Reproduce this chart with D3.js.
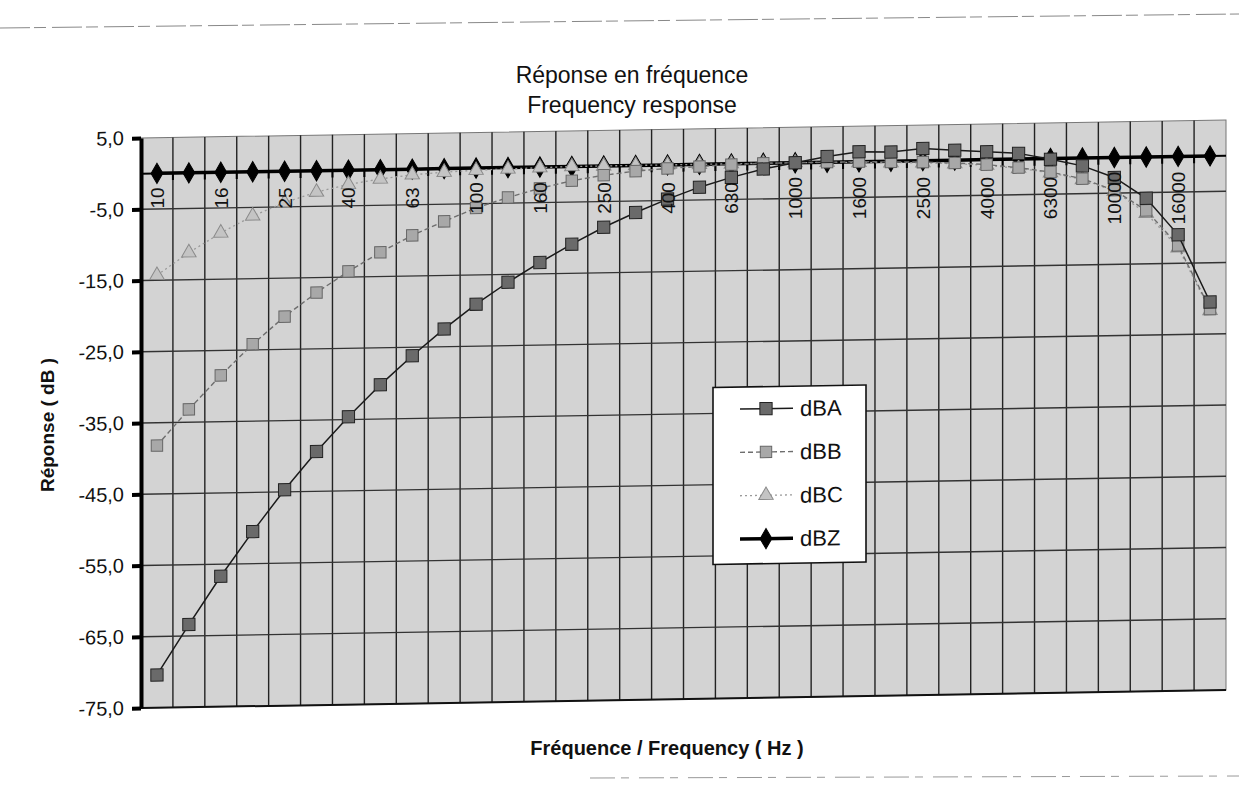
<!doctype html><html><head><meta charset="utf-8"></head><body style="margin:0;background:#fff">
<script src="https://d3js.org/d3.v7.min.js"></script>
<style>
  svg text { font-family: "Liberation Sans", Arial, sans-serif; fill: #111; }
</style>
<script>
// 1/3 octave bands (Hz)
var bands = ["10","12.5","16","20","25","31.5","40","50","63","80","100","125","160","200","250","315","400","500","630","800",
             "1000","1250","1600","2000","2500","3150","4000","5000","6300","8000","10000","12500","16000","20000"];
var xLabels = ["10","16","25","40","63","100","160","250","400","630","1000","1600","2500","4000","6300","10000","16000"];
var yTicks = [5,-5,-15,-25,-35,-45,-55,-65,-75];

var dBA = [-70.4,-63.4,-56.7,-50.5,-44.7,-39.4,-34.6,-30.2,-26.2,-22.5,-19.1,-16.1,-13.4,-10.9,-8.6,-6.6,-4.8,-3.2,-1.9,-0.8,
           0,0.8,1.4,1.3,1.7,1.4,1.1,0.8,-0.1,-1.1,-2.8,-5.8,-11.0,-20.5];
var dBB = [-38.2,-33.2,-28.5,-24.2,-20.4,-17.1,-14.2,-11.6,-9.3,-7.4,-5.6,-4.2,-3.0,-2.0,-1.3,-0.8,-0.5,-0.3,-0.1,0,
           0,0,0,-0.1,-0.2,-0.4,-0.7,-1.2,-1.9,-2.9,-4.6,-7.5,-12.5,-21.5];
var dBC = [-14.3,-11.2,-8.5,-6.2,-4.4,-3.0,-2.0,-1.3,-0.8,-0.5,-0.3,-0.2,-0.1,0,0,0,0,0,0,0,
           0,0,-0.1,-0.2,-0.3,-0.5,-0.8,-1.3,-2.0,-3.0,-4.7,-7.9,-12.8,-21.7];
var dBZ = [0,0,0,0,0,0,0,0,0,0,0,0,0,0,0,0,0,0,0,0,0,0,0,0,0,0,0,0,0,0,0,0,0,0];
var seriesNames = ["dBA","dBB","dBC","dBZ"];

var W = 1239, H = 787;
var pl = 141, pr = 1226, pt = 138, pb = 708;

var svg = d3.select("body").append("svg").attr("width", W).attr("height", H);

var x = d3.scaleBand().domain(bands).range([pl, pr]).padding(0);
var y = d3.scaleLinear().domain([-75, 5]).range([pb, pt]);
var cx = function(d, i) { return x(bands[i]) + x.bandwidth() / 2; };

// scan artifacts (page edges)
svg.append("line").attr("x1", 0).attr("x2", 1239).attr("y1", 28).attr("y2", 14)
  .attr("stroke", "#888").attr("stroke-width", 1).attr("stroke-dasharray", "30,4,12,6");
svg.append("line").attr("x1", 590).attr("x2", 1239).attr("y1", 778).attr("y2", 776)
  .attr("stroke", "#999").attr("stroke-width", 1).attr("stroke-dasharray", "25,6,8,10");

// the scan is slightly sheared, keep that on the plot
var g = svg.append("g").attr("transform", "translate(" + pl + ",0) skewY(-0.95) translate(" + (-pl) + ",0)");

g.append("rect").attr("x", pl).attr("y", pt).attr("width", pr - pl).attr("height", pb - pt)
  .attr("fill", "#d3d3d3").attr("stroke", "#777").attr("stroke-width", 1);

// vertical grid at band boundaries
g.selectAll(".vg").data(bands.slice(1)).enter().append("line")
  .attr("x1", function(d) { return x(d); }).attr("x2", function(d) { return x(d); })
  .attr("y1", pt).attr("y2", pb)
  .attr("stroke", "#222").attr("stroke-width", 1.4);

// horizontal grid
g.selectAll(".hg").data(yTicks.slice(1, -1)).enter().append("line")
  .attr("x1", pl).attr("x2", pr)
  .attr("y1", function(d) { return y(d); }).attr("y2", function(d) { return y(d); })
  .attr("stroke", "#333").attr("stroke-width", 1.4);

// bottom edge
g.append("line").attr("x1", pl).attr("x2", pr).attr("y1", pb).attr("y2", pb)
  .attr("stroke", "#111").attr("stroke-width", 2);

// y axis
var yAxis = g.append("g").attr("transform", "translate(" + pl + ",0)")
  .call(d3.axisLeft(y).tickValues(yTicks).tickSize(9).tickSizeOuter(0)
    .tickFormat(function(d) { return d.toFixed(1).replace(".", ","); }));
yAxis.select(".domain").attr("stroke", "#000").attr("stroke-width", 4);
yAxis.selectAll(".tick line").attr("stroke", "#000").attr("stroke-width", 4);
yAxis.selectAll(".tick text").attr("x", -17).style("font-size", "20px")
  .style("font-family", "Liberation Sans, Arial, sans-serif").attr("fill", "#111");

// category axis at 0 dB with ticks at band boundaries
g.append("line").attr("x1", pl).attr("x2", pr).attr("y1", y(0)).attr("y2", y(0))
  .attr("stroke", "#000").attr("stroke-width", 2);
g.selectAll(".xt").data(bands.slice(1)).enter().append("line")
  .attr("x1", function(d) { return x(d); }).attr("x2", function(d) { return x(d); })
  .attr("y1", y(0)).attr("y2", y(0) + 7)
  .attr("stroke", "#000").attr("stroke-width", 2);

// series
var series = [
  { name: "dBA", values: dBA, stroke: "#1a1a1a", width: 1.5, dash: null, shape: d3.symbolSquare, size: 150, fill: "#6a6a6a", mstroke: "#222" },
  { name: "dBB", values: dBB, stroke: "#6e6e6e", width: 1.4, dash: "5,3", shape: d3.symbolSquare, size: 130, fill: "#a8a8a8", mstroke: "#666" },
  { name: "dBC", values: dBC, stroke: "#9a9a9a", width: 1.3, dash: "2,3", shape: d3.symbolTriangle, size: 90, fill: "#c4c4c4", mstroke: "#8a8a8a" },
  { name: "dBZ", values: dBZ, stroke: "#000", width: 3.5, dash: null, shape: d3.symbolDiamond, size: 120, fill: "#000", mstroke: "#000" }
];
var drawOrder = [3, 2, 1, 0];

var line = d3.line().x(cx).y(function(d) { return y(d); });

drawOrder.forEach(function(k) {
  var s = series[k];
  g.append("path").datum(s.values).attr("d", line)
    .attr("fill", "none").attr("stroke", s.stroke).attr("stroke-width", s.width)
    .attr("stroke-dasharray", s.dash);
  g.selectAll(".m" + k).data(s.values).enter().append("path")
    .attr("transform", function(d, i) { return "translate(" + cx(d, i) + "," + y(d) + ")"; })
    .attr("d", d3.symbol().type(s.shape).size(s.size))
    .attr("fill", s.fill).attr("stroke", s.mstroke).attr("stroke-width", 1);
});

// legend
var lg = g.append("g");
lg.append("rect").attr("x", 713).attr("y", 397).attr("width", 153).attr("height", 177)
  .attr("fill", "#fff").attr("stroke", "#111").attr("stroke-width", 1.6);
var legendY = d3.scalePoint().domain(seriesNames).range([419, 549]);
series.forEach(function(s) {
  var ly = legendY(s.name);
  lg.append("line").attr("x1", 740).attr("x2", 793).attr("y1", ly).attr("y2", ly)
    .attr("stroke", s.stroke).attr("stroke-width", s.width).attr("stroke-dasharray", s.dash);
  lg.append("path").attr("transform", "translate(766," + ly + ")")
    .attr("d", d3.symbol().type(s.shape).size(s.size))
    .attr("fill", s.fill).attr("stroke", s.mstroke).attr("stroke-width", 1);
  lg.append("text").attr("x", 800).attr("y", ly).attr("dy", "0.36em")
    .style("font-size", "22px").text(s.name);
});

// rotated category labels, every other band
svg.selectAll(".xl").data(xLabels).enter().append("text")
  .attr("transform", function(d) { return "translate(" + (x(d) + x.bandwidth() / 2 + 7) + ",198) rotate(-90)"; })
  .attr("text-anchor", "middle")
  .style("font-size", "19px")
  .text(function(d) { return d; });

// titles
svg.append("text").attr("x", 632).attr("y", 83).attr("text-anchor", "middle").style("font-size", "23px").text("Réponse en fréquence");
svg.append("text").attr("x", 632).attr("y", 113).attr("text-anchor", "middle").style("font-size", "23px").text("Frequency response");
svg.append("text").attr("x", 667).attr("y", 755).attr("text-anchor", "middle")
  .style("font-size", "20px").style("font-weight", "bold").text("Fréquence / Frequency ( Hz )");
svg.append("text").attr("transform", "translate(54,425) rotate(-90)").attr("text-anchor", "middle")
  .style("font-size", "19px").style("font-weight", "bold").text("Réponse ( dB )");
</script></body></html>
